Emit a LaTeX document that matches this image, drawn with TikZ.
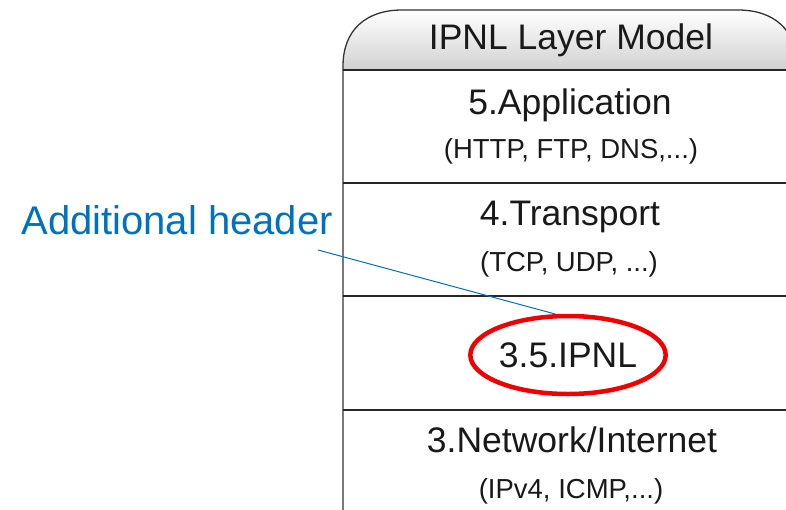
\documentclass[tikz,border=0pt]{standalone}
\usepackage{fontspec}
\setmainfont{Liberation Sans}
\usetikzlibrary{shapes.geometric}
\definecolor{leadblue}{RGB}{0,112,192}
\definecolor{ringred}{RGB}{240,0,0}
\tikzset{
  boxline/.style={draw=black!85, line width=1.8pt},
  sideline/.style={draw=black!80, line width=1.3pt},
  layertitle/.style={font=\fontsize{35.5}{40}\selectfont, inner sep=0pt, text=black!90},
  layersub/.style={font=\fontsize{27.5}{31}\selectfont, inner sep=0pt, text=black!90},
  ring/.style={ellipse, draw=ringred, line width=4.5pt, minimum width=186pt, minimum height=78pt, inner sep=0pt},
  leadline/.style={draw=leadblue, line width=1pt},
  leadtext/.style={font=\fontsize{40}{44}\selectfont, text=leadblue, inner sep=0pt}
}
\begin{document}
\begin{tikzpicture}[x=1pt,y=-1pt]
\useasboundingbox (0,0) rectangle (786,509);
\begin{scope}
\clip (0,0) rectangle (786,509);
% header shading
\shade[top color=white, bottom color=black!18]
  (343,70) -- (343,66) .. controls (343,30) and (366,10) .. (402,10)
  -- (738,10) .. controls (774,10) and (797,30) .. (797,66) -- (797,70) -- cycle;
% outer box
\draw[sideline, line cap=butt]
  (343,520) -- (343,66) .. controls (343,30) and (366,10) .. (402,10)
  -- (738,10) .. controls (774,10) and (797,30) .. (797,66) -- (797,520);
% separators
\draw[boxline] (343,70) -- (797,70);
\draw[boxline] (343,183) -- (797,183);
\draw[boxline] (343,296) -- (797,296);
\draw[boxline] (343,410) -- (797,410);
\end{scope}
% texts
\node[layertitle] (title) at (571,40) {IPNL Layer Model};
\node[layertitle] (app) at (570,105) {5.Application};
\node[layersub] (appsub) at (571,151) {(HTTP, FTP, DNS,...)};
\node[layertitle] (trans) at (570,217) {4.Transport};
\node[layersub] (transsub) at (569,264) {(TCP, UDP, ...)};
\node[layertitle, ring] (ipnl) at (568,355) {3.5.IPNL};
\node[layertitle] (net) at (572,440) {3.Network/Internet};
\node[layersub] (netsub) at (571,491) {(IPv4, ICMP,...)};
% annotation
\node[leadtext] (addl) at (177,220) {Additional header};
\coordinate (leadstart) at (318,250);
\draw[leadline] (leadstart) -- (ipnl.107);
\end{tikzpicture}
\end{document}
